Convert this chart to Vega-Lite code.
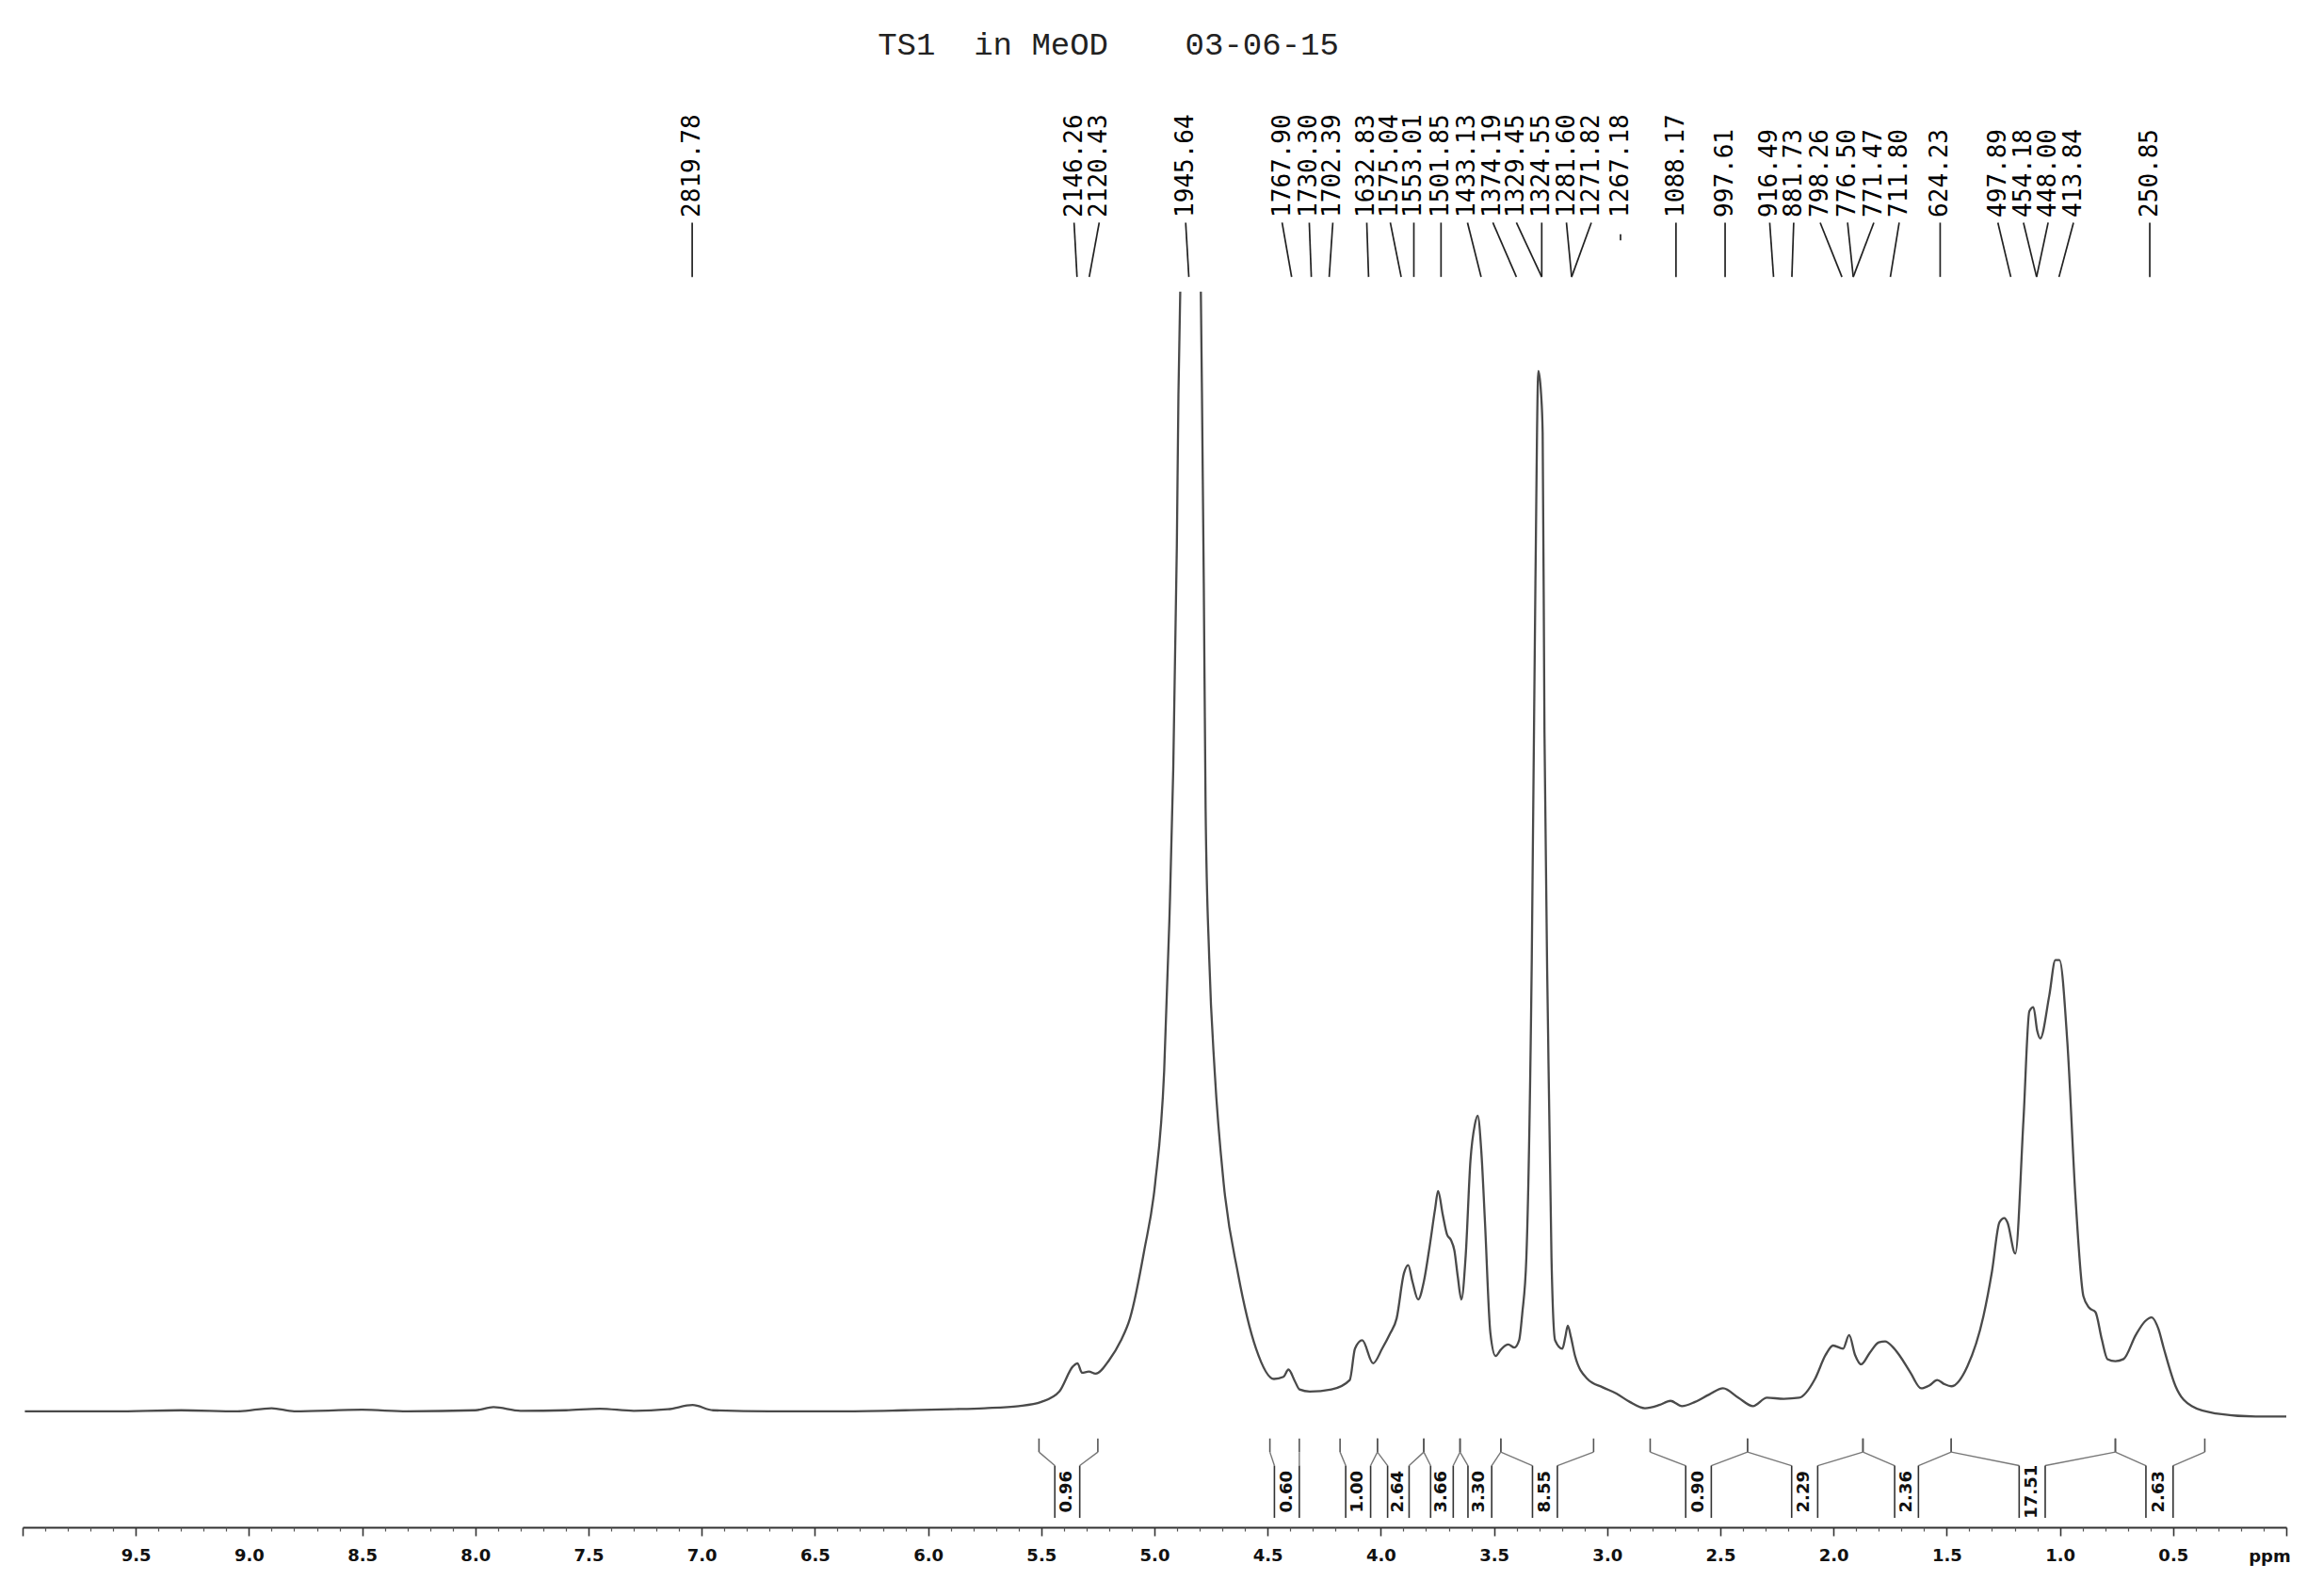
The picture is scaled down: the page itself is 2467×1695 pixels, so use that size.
{
  "$schema": "https://vega.github.io/schema/vega-lite/v6.json",
  "width": 2404,
  "height": 1522,
  "autosize": "none",
  "padding": {"left": 24, "top": 100, "right": 39, "bottom": 73},
  "background": "white",
  "config": {"view": {"stroke": null}},
  "resolve": {"axis": {"x": "independent"}},
  "title": {
    "text": "TS1\u00a0\u00a0in MeOD\u00a0\u00a0\u00a0\u00a003-06-15",
    "font": "Liberation Mono",
    "fontSize": 34,
    "fontWeight": "normal",
    "color": "#222222",
    "anchor": "middle",
    "frame": "group",
    "dx": -49,
    "offset": 8,
    "baseline": "alphabetic"
  },
  "datasets": {
    "spectrum": [
      {"seg": "a", "ppm": 9.99, "i": 0.1},
      {"seg": "a", "ppm": 9.6, "i": 0.1},
      {"seg": "a", "ppm": 9.3, "i": 0.2},
      {"seg": "a", "ppm": 9.05, "i": 0.1},
      {"seg": "a", "ppm": 8.9, "i": 0.4},
      {"seg": "a", "ppm": 8.8, "i": 0.1},
      {"seg": "a", "ppm": 8.5, "i": 0.25},
      {"seg": "a", "ppm": 8.3, "i": 0.1},
      {"seg": "a", "ppm": 8.0, "i": 0.2},
      {"seg": "a", "ppm": 7.92, "i": 0.5},
      {"seg": "a", "ppm": 7.8, "i": 0.15},
      {"seg": "a", "ppm": 7.6, "i": 0.2},
      {"seg": "a", "ppm": 7.45, "i": 0.35},
      {"seg": "a", "ppm": 7.3, "i": 0.15},
      {"seg": "a", "ppm": 7.15, "i": 0.3},
      {"seg": "a", "ppm": 7.04, "i": 0.7},
      {"seg": "a", "ppm": 6.95, "i": 0.2},
      {"seg": "a", "ppm": 6.7, "i": 0.1},
      {"seg": "a", "ppm": 6.4, "i": 0.1},
      {"seg": "a", "ppm": 6.1, "i": 0.2},
      {"seg": "a", "ppm": 5.9, "i": 0.3},
      {"seg": "a", "ppm": 5.75, "i": 0.4},
      {"seg": "a", "ppm": 5.6, "i": 0.6},
      {"seg": "a", "ppm": 5.5, "i": 1.0},
      {"seg": "a", "ppm": 5.42, "i": 2.0},
      {"seg": "a", "ppm": 5.36, "i": 4.4},
      {"seg": "a", "ppm": 5.34, "i": 4.7},
      {"seg": "a", "ppm": 5.32, "i": 3.8},
      {"seg": "a", "ppm": 5.29, "i": 3.9},
      {"seg": "a", "ppm": 5.26, "i": 3.7},
      {"seg": "a", "ppm": 5.2, "i": 5.0},
      {"seg": "a", "ppm": 5.15, "i": 6.8},
      {"seg": "a", "ppm": 5.108, "i": 9.0},
      {"seg": "a", "ppm": 5.045, "i": 15.5},
      {"seg": "a", "ppm": 4.997, "i": 21.9},
      {"seg": "a", "ppm": 4.957, "i": 32.7},
      {"seg": "a", "ppm": 4.934, "i": 47.1},
      {"seg": "a", "ppm": 4.917, "i": 61.5},
      {"seg": "a", "ppm": 4.901, "i": 83.0},
      {"seg": "a", "ppm": 4.894, "i": 97.4},
      {"seg": "a", "ppm": 4.886, "i": 107.3},
      {"seg": "b", "ppm": 4.795, "i": 107.3},
      {"seg": "b", "ppm": 4.79, "i": 97.4},
      {"seg": "b", "ppm": 4.782, "i": 79.4},
      {"seg": "b", "ppm": 4.774, "i": 57.9},
      {"seg": "b", "ppm": 4.758, "i": 43.5},
      {"seg": "b", "ppm": 4.734, "i": 32.7},
      {"seg": "b", "ppm": 4.694, "i": 21.9},
      {"seg": "b", "ppm": 4.631, "i": 13.3},
      {"seg": "b", "ppm": 4.551, "i": 6.1},
      {"seg": "b", "ppm": 4.472, "i": 3.2},
      {"seg": "b", "ppm": 4.43, "i": 3.4},
      {"seg": "b", "ppm": 4.408, "i": 4.1},
      {"seg": "b", "ppm": 4.38, "i": 3.0},
      {"seg": "b", "ppm": 4.359, "i": 2.2},
      {"seg": "b", "ppm": 4.314, "i": 2.0},
      {"seg": "b", "ppm": 4.218, "i": 2.2},
      {"seg": "b", "ppm": 4.137, "i": 3.1},
      {"seg": "b", "ppm": 4.114, "i": 6.1},
      {"seg": "b", "ppm": 4.082, "i": 6.9},
      {"seg": "b", "ppm": 4.034, "i": 4.7},
      {"seg": "b", "ppm": 3.994, "i": 6.1},
      {"seg": "b", "ppm": 3.96, "i": 7.5},
      {"seg": "b", "ppm": 3.93, "i": 9.0},
      {"seg": "b", "ppm": 3.898, "i": 13.3},
      {"seg": "b", "ppm": 3.879, "i": 14.1},
      {"seg": "b", "ppm": 3.86, "i": 12.5},
      {"seg": "b", "ppm": 3.835, "i": 10.8},
      {"seg": "b", "ppm": 3.81, "i": 12.5},
      {"seg": "b", "ppm": 3.787, "i": 15.5},
      {"seg": "b", "ppm": 3.76, "i": 19.5},
      {"seg": "b", "ppm": 3.747, "i": 21.2},
      {"seg": "b", "ppm": 3.727, "i": 19.0},
      {"seg": "b", "ppm": 3.707, "i": 17.0},
      {"seg": "b", "ppm": 3.69, "i": 16.5},
      {"seg": "b", "ppm": 3.675, "i": 15.5},
      {"seg": "b", "ppm": 3.66, "i": 13.0},
      {"seg": "b", "ppm": 3.644, "i": 10.8},
      {"seg": "b", "ppm": 3.625, "i": 15.0},
      {"seg": "b", "ppm": 3.604, "i": 24.1},
      {"seg": "b", "ppm": 3.585, "i": 27.5},
      {"seg": "b", "ppm": 3.572, "i": 28.4},
      {"seg": "b", "ppm": 3.556, "i": 25.0},
      {"seg": "b", "ppm": 3.54, "i": 18.3},
      {"seg": "b", "ppm": 3.516, "i": 7.6},
      {"seg": "b", "ppm": 3.493, "i": 5.4},
      {"seg": "b", "ppm": 3.47, "i": 6.0},
      {"seg": "b", "ppm": 3.45, "i": 6.4},
      {"seg": "b", "ppm": 3.437, "i": 6.5},
      {"seg": "b", "ppm": 3.41, "i": 6.2},
      {"seg": "b", "ppm": 3.389, "i": 6.9},
      {"seg": "b", "ppm": 3.375, "i": 9.5},
      {"seg": "b", "ppm": 3.357, "i": 14.8},
      {"seg": "b", "ppm": 3.333, "i": 43.5},
      {"seg": "b", "ppm": 3.317, "i": 79.4},
      {"seg": "b", "ppm": 3.304, "i": 99.7},
      {"seg": "b", "ppm": 3.292, "i": 97.5},
      {"seg": "b", "ppm": 3.285, "i": 93.8},
      {"seg": "b", "ppm": 3.277, "i": 65.1},
      {"seg": "b", "ppm": 3.261, "i": 36.3},
      {"seg": "b", "ppm": 3.246, "i": 14.8},
      {"seg": "b", "ppm": 3.23, "i": 6.9},
      {"seg": "b", "ppm": 3.198, "i": 6.1},
      {"seg": "b", "ppm": 3.185, "i": 7.2},
      {"seg": "b", "ppm": 3.174, "i": 8.3},
      {"seg": "b", "ppm": 3.16, "i": 7.2},
      {"seg": "b", "ppm": 3.142, "i": 5.4},
      {"seg": "b", "ppm": 3.087, "i": 3.2},
      {"seg": "b", "ppm": 3.02, "i": 2.4},
      {"seg": "b", "ppm": 2.959, "i": 1.8},
      {"seg": "b", "ppm": 2.9, "i": 1.0},
      {"seg": "b", "ppm": 2.833, "i": 0.4},
      {"seg": "b", "ppm": 2.77, "i": 0.7},
      {"seg": "b", "ppm": 2.72, "i": 1.1},
      {"seg": "b", "ppm": 2.67, "i": 0.6},
      {"seg": "b", "ppm": 2.612, "i": 1.0},
      {"seg": "b", "ppm": 2.55, "i": 1.7},
      {"seg": "b", "ppm": 2.488, "i": 2.3},
      {"seg": "b", "ppm": 2.42, "i": 1.4},
      {"seg": "b", "ppm": 2.356, "i": 0.6},
      {"seg": "b", "ppm": 2.294, "i": 1.4},
      {"seg": "b", "ppm": 2.22, "i": 1.3},
      {"seg": "b", "ppm": 2.152, "i": 1.4},
      {"seg": "b", "ppm": 2.082, "i": 3.2},
      {"seg": "b", "ppm": 2.035, "i": 5.5},
      {"seg": "b", "ppm": 2.002, "i": 6.4},
      {"seg": "b", "ppm": 1.958, "i": 6.1},
      {"seg": "b", "ppm": 1.931, "i": 7.4},
      {"seg": "b", "ppm": 1.905, "i": 5.5},
      {"seg": "b", "ppm": 1.878, "i": 4.6},
      {"seg": "b", "ppm": 1.84, "i": 5.7},
      {"seg": "b", "ppm": 1.8, "i": 6.7},
      {"seg": "b", "ppm": 1.772, "i": 6.8},
      {"seg": "b", "ppm": 1.74, "i": 6.3},
      {"seg": "b", "ppm": 1.71, "i": 5.5},
      {"seg": "b", "ppm": 1.66, "i": 3.8},
      {"seg": "b", "ppm": 1.613, "i": 2.3},
      {"seg": "b", "ppm": 1.575, "i": 2.6},
      {"seg": "b", "ppm": 1.542, "i": 3.1},
      {"seg": "b", "ppm": 1.51, "i": 2.7},
      {"seg": "b", "ppm": 1.48, "i": 2.5},
      {"seg": "b", "ppm": 1.409, "i": 4.4},
      {"seg": "b", "ppm": 1.338, "i": 9.2},
      {"seg": "b", "ppm": 1.3, "i": 13.5},
      {"seg": "b", "ppm": 1.267, "i": 18.2},
      {"seg": "b", "ppm": 1.245, "i": 18.6},
      {"seg": "b", "ppm": 1.232, "i": 18.2},
      {"seg": "b", "ppm": 1.197, "i": 15.2},
      {"seg": "b", "ppm": 1.161, "i": 28.0},
      {"seg": "b", "ppm": 1.135, "i": 38.4},
      {"seg": "b", "ppm": 1.117, "i": 38.8},
      {"seg": "b", "ppm": 1.1, "i": 36.5},
      {"seg": "b", "ppm": 1.087, "i": 35.8},
      {"seg": "b", "ppm": 1.047, "i": 39.9},
      {"seg": "b", "ppm": 1.02, "i": 43.3},
      {"seg": "b", "ppm": 1.002, "i": 43.3},
      {"seg": "b", "ppm": 0.967, "i": 35.4},
      {"seg": "b", "ppm": 0.931, "i": 20.5},
      {"seg": "b", "ppm": 0.896, "i": 11.1},
      {"seg": "b", "ppm": 0.87, "i": 10.0},
      {"seg": "b", "ppm": 0.843, "i": 9.6},
      {"seg": "b", "ppm": 0.815, "i": 7.0},
      {"seg": "b", "ppm": 0.79, "i": 5.1},
      {"seg": "b", "ppm": 0.755, "i": 4.9},
      {"seg": "b", "ppm": 0.719, "i": 5.1},
      {"seg": "b", "ppm": 0.665, "i": 7.4},
      {"seg": "b", "ppm": 0.625, "i": 8.7},
      {"seg": "b", "ppm": 0.595, "i": 9.1},
      {"seg": "b", "ppm": 0.565, "i": 8.0},
      {"seg": "b", "ppm": 0.542, "i": 6.2},
      {"seg": "b", "ppm": 0.489, "i": 2.5},
      {"seg": "b", "ppm": 0.418, "i": 0.6},
      {"seg": "b", "ppm": 0.312, "i": -0.1},
      {"seg": "b", "ppm": 0.135, "i": -0.4},
      {"seg": "b", "ppm": 0.0, "i": -0.4}
    ],
    "peaks": [
      {"label": "2819.78", "lx": 7.042, "px": 7.042},
      {"label": "2146.26", "lx": 5.355, "px": 5.342},
      {"label": "2120.43", "lx": 5.244, "px": 5.288},
      {"label": "1945.64", "lx": 4.862, "px": 4.848},
      {"label": "1767.90", "lx": 4.436, "px": 4.394},
      {"label": "1730.30", "lx": 4.316, "px": 4.307},
      {"label": "1702.39", "lx": 4.212, "px": 4.228},
      {"label": "1632.83", "lx": 4.062, "px": 4.054},
      {"label": "1575.04", "lx": 3.958, "px": 3.91},
      {"label": "1553.01", "lx": 3.854, "px": 3.854},
      {"label": "1501.85", "lx": 3.734, "px": 3.734},
      {"label": "1433.13", "lx": 3.617, "px": 3.557},
      {"label": "1374.19", "lx": 3.505, "px": 3.401},
      {"label": "1329.45", "lx": 3.401, "px": 3.289},
      {"label": "1324.55", "lx": 3.289, "px": 3.289},
      {"label": "1281.60", "lx": 3.18, "px": 3.157},
      {"label": "1271.82", "lx": 3.07, "px": 3.157},
      {"label": "1267.18", "lx": 2.941, "px": null},
      {"label": "1088.17", "lx": 2.696, "px": 2.696},
      {"label": "997.61", "lx": 2.479, "px": 2.479},
      {"label": "916.49", "lx": 2.282, "px": 2.265},
      {"label": "881.73", "lx": 2.176, "px": 2.184},
      {"label": "798.26", "lx": 2.059, "px": 1.963},
      {"label": "776.50", "lx": 1.938, "px": 1.913},
      {"label": "771.47", "lx": 1.822, "px": 1.913},
      {"label": "711.80", "lx": 1.71, "px": 1.749},
      {"label": "624.23", "lx": 1.529, "px": 1.529},
      {"label": "497.89", "lx": 1.274, "px": 1.217},
      {"label": "454.18", "lx": 1.161, "px": 1.103},
      {"label": "448.00", "lx": 1.052, "px": 1.103},
      {"label": "413.84", "lx": 0.94, "px": 1.004},
      {"label": "250.85", "lx": 0.603, "px": 0.603}
    ],
    "integrals": [
      {"v": "0.96", "L": 5.51, "R": 5.25, "bl": 5.44, "br": 5.33, "c": 5.385},
      {"v": "0.60", "L": 4.49, "R": 4.36, "bl": 4.47, "br": 4.36, "c": 4.415},
      {"v": "1.00", "L": 4.18, "R": 4.015, "bl": 4.155, "br": 4.045, "c": 4.1},
      {"v": "2.64", "L": 4.015, "R": 3.81, "bl": 3.97, "br": 3.875, "c": 3.922},
      {"v": "3.66", "L": 3.81, "R": 3.65, "bl": 3.78, "br": 3.68, "c": 3.73},
      {"v": "3.30", "L": 3.65, "R": 3.47, "bl": 3.615, "br": 3.51, "c": 3.563},
      {"v": "8.55", "L": 3.47, "R": 3.06, "bl": 3.33, "br": 3.22, "c": 3.275},
      {"v": "0.90", "L": 2.81, "R": 2.38, "bl": 2.653, "br": 2.54, "c": 2.597},
      {"v": "2.29", "L": 2.38, "R": 1.87, "bl": 2.185, "br": 2.07, "c": 2.128},
      {"v": "2.36", "L": 1.87, "R": 1.48, "bl": 1.73, "br": 1.625, "c": 1.678},
      {"v": "17.51", "L": 1.48, "R": 0.755, "bl": 1.18, "br": 1.065, "c": 1.123},
      {"v": "2.63", "L": 0.755, "R": 0.36, "bl": 0.62, "br": 0.5, "c": 0.56}
    ]
  },
  "layer": [
    {
      "data": {"name": "spectrum"},
      "mark": {"type": "line", "color": "#4a4a4a", "strokeWidth": 2.3, "interpolate": "monotone"},
      "encoding": {
        "x": {
          "field": "ppm",
          "type": "quantitative",
          "scale": {"domain": [0, 10], "reverse": true, "nice": false, "zero": false},
          "axis": {
            "orient": "bottom",
            "values": [0, 0.5, 1.0, 1.5, 2.0, 2.5, 3.0, 3.5, 4.0, 4.5, 5.0, 5.5, 6.0, 6.5, 7.0, 7.5, 8.0, 8.5, 9.0, 9.5, 10.0],
            "grid": false,
            "title": "ppm",
            "titleFont": "DejaVu Sans",
            "titleFontSize": 18,
            "titleFontWeight": "bold",
            "titleColor": "#111111",
            "titleAngle": 0,
            "titleAlign": "center",
            "titleBaseline": "alphabetic",
            "titleX": 2386,
            "titleY": 36,
            "labelExpr": "(datum.value > 0.3 && datum.value < 9.7) ? format(datum.value, '.1f') : ''",
            "labelFont": "DejaVu Sans",
            "labelFontSize": 18,
            "labelFontWeight": "bold",
            "labelColor": "#111111",
            "labelPadding": 12,
            "labelOverlap": false,
            "labelFlush": false,
            "labelBound": false,
            "domainColor": "#333333",
            "domainWidth": 2,
            "tickColor": "#333333",
            "tickWidth": 1.6,
            "tickSize": 9
          }
        },
        "y": {
          "field": "i",
          "type": "quantitative",
          "scale": {"domain": [-11, 126.2], "nice": false, "zero": false},
          "axis": null
        },
        "detail": {"field": "seg"}
      }
    },
    {
      "data": {"name": "peaks"},
      "mark": {"type": "text", "angle": 270, "align": "left", "baseline": "middle", "font": "DejaVu Sans Mono", "fontSize": 26, "color": "#000000"},
      "encoding": {
        "x": {
          "field": "lx",
          "type": "quantitative",
          "axis": {
            "orient": "bottom",
            "values": [0.1, 0.2, 0.3, 0.4, 0.6, 0.7, 0.8, 0.9, 1.1, 1.2, 1.3, 1.4, 1.6, 1.7, 1.8, 1.9, 2.1, 2.2, 2.3, 2.4, 2.6, 2.7, 2.8, 2.9, 3.1, 3.2, 3.3, 3.4, 3.6, 3.7, 3.8, 3.9, 4.1, 4.2, 4.3, 4.4, 4.6, 4.7, 4.8, 4.9, 5.1, 5.2, 5.3, 5.4, 5.6, 5.7, 5.8, 5.9, 6.1, 6.2, 6.3, 6.4, 6.6, 6.7, 6.8, 6.9, 7.1, 7.2, 7.3, 7.4, 7.6, 7.7, 7.8, 7.9, 8.1, 8.2, 8.3, 8.4, 8.6, 8.7, 8.8, 8.9, 9.1, 9.2, 9.3, 9.4, 9.6, 9.7, 9.8, 9.9],
            "grid": false,
            "title": null,
            "labels": false,
            "domain": false,
            "tickColor": "#555555",
            "tickWidth": 1.2,
            "tickSize": 4
          }
        },
        "y": {"datum": 114.4, "axis": null},
        "text": {"field": "label"}
      }
    },
    {
      "data": {"name": "peaks"},
      "transform": [{"filter": "datum.px != null"}],
      "mark": {"type": "rule", "color": "#222222", "strokeWidth": 1.7},
      "encoding": {
        "x": {"field": "lx", "type": "quantitative", "axis": null},
        "x2": {"field": "px"},
        "y": {"datum": 113.9, "axis": null},
        "y2": {"datum": 108.7}
      }
    },
    {
      "data": {"name": "peaks"},
      "transform": [{"filter": "datum.px == null"}],
      "mark": {"type": "rule", "color": "#222222", "strokeWidth": 1.7},
      "encoding": {
        "x": {"field": "lx", "type": "quantitative", "axis": null},
        "y": {"datum": 112.8, "axis": null},
        "y2": {"datum": 112.2}
      }
    },
    {
      "data": {"name": "integrals"},
      "mark": {"type": "rule", "color": "#555555", "strokeWidth": 1.6},
      "encoding": {
        "x": {"field": "L", "type": "quantitative", "axis": null},
        "y": {"datum": -2.5, "axis": null},
        "y2": {"datum": -3.8}
      }
    },
    {
      "data": {"name": "integrals"},
      "mark": {"type": "rule", "color": "#555555", "strokeWidth": 1.6},
      "encoding": {
        "x": {"field": "R", "type": "quantitative", "axis": null},
        "y": {"datum": -2.5, "axis": null},
        "y2": {"datum": -3.8}
      }
    },
    {
      "data": {"name": "integrals"},
      "mark": {"type": "rule", "color": "#777777", "strokeWidth": 1.4},
      "encoding": {
        "x": {"field": "L", "type": "quantitative", "axis": null},
        "x2": {"field": "bl"},
        "y": {"datum": -3.8, "axis": null},
        "y2": {"datum": -5.1}
      }
    },
    {
      "data": {"name": "integrals"},
      "mark": {"type": "rule", "color": "#777777", "strokeWidth": 1.4},
      "encoding": {
        "x": {"field": "R", "type": "quantitative", "axis": null},
        "x2": {"field": "br"},
        "y": {"datum": -3.8, "axis": null},
        "y2": {"datum": -5.1}
      }
    },
    {
      "data": {"name": "integrals"},
      "mark": {"type": "rule", "color": "#333333", "strokeWidth": 1.6},
      "encoding": {
        "x": {"field": "bl", "type": "quantitative", "axis": null},
        "y": {"datum": -5.1, "axis": null},
        "y2": {"datum": -10.1}
      }
    },
    {
      "data": {"name": "integrals"},
      "mark": {"type": "rule", "color": "#333333", "strokeWidth": 1.6},
      "encoding": {
        "x": {"field": "br", "type": "quantitative", "axis": null},
        "y": {"datum": -5.1, "axis": null},
        "y2": {"datum": -10.1}
      }
    },
    {
      "data": {"name": "integrals"},
      "mark": {"type": "text", "angle": 270, "align": "center", "baseline": "middle", "font": "DejaVu Sans", "fontSize": 18, "fontWeight": "bold", "color": "#111111"},
      "encoding": {
        "x": {"field": "c", "type": "quantitative", "axis": null},
        "y": {"datum": -7.6, "axis": null},
        "text": {"field": "v"}
      }
    }
  ]
}
